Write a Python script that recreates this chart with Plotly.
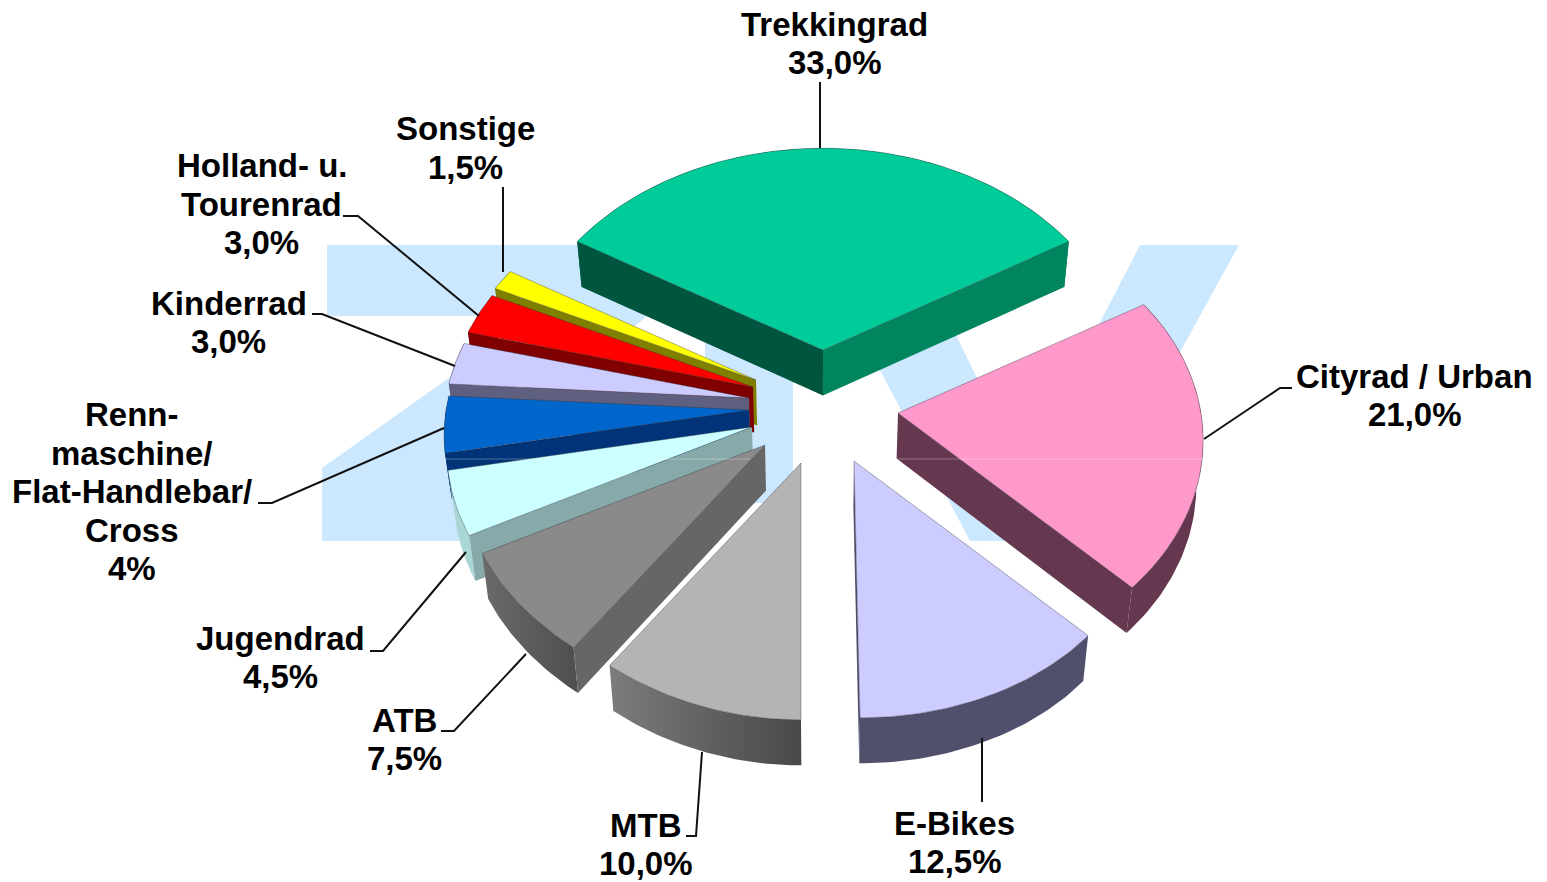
import math
import plotly.graph_objects as go

# ---- data ----
categories = ["Trekkingrad", "Cityrad / Urban", "E-Bikes", "MTB", "ATB", "Jugendrad",
              "Renn-maschine/Flat-Handlebar/Cross", "Kinderrad", "Holland- u. Tourenrad", "Sonstige"]
shares = [33.0, 21.0, 12.5, 10.0, 7.5, 4.5, 4.0, 3.0, 3.0, 1.5]
share_labels = ["33,0%", "21,0%", "12,5%", "10,0%", "7,5%", "4,5%", "4%", "3,0%", "3,0%", "1,5%"]

# ---- styling / layout ----
label_lines = [["Trekkingrad"], ["Cityrad / Urban"], ["E-Bikes"], ["MTB"], ["ATB"], ["Jugendrad"],
               ["Renn-", "maschine/", "Flat-Handlebar/", "Cross"], ["Kinderrad"],
               ["Holland- u.", "Tourenrad"], ["Sonstige"]]
label_pos = [(834.5, 24), (1414.5, 376), (954.5, 823), (645.5, 825), (404.5, 720), (280.5, 638),
             (131.5, 414.5), (228.5, 303), (261.5, 165.5), (465.5, 128.5)]
LINE_STEP = 38.6
apex = [(823, 350), (898, 413), (854, 461), (801, 463), (765, 445), (752, 427),
        (749, 410), (749, 398), (753, 387), (756, 380)]
top_col = ["#00CC99", "#FF99CC", "#CCCCFF", "#B4B4B4", "#8A8A8A", "#CCFFFF",
           "#0066CC", "#CCCCFF", "#FF0000", "#FFFF00"]
wall_col = ["#00855F", "#66384F", "#50506C", "#5A5A5A", "#666666", "#88A9A9",
            "#003377", "#5F5F7F", "#800000", "#808000"]
far_wall_col = {0: "#00553F"}
arc_grad = {3: ("#7C7C7C", "#484848"), 4: ("#6A6A6A", "#4E4E4E"), 5: ("#AAD6D6", "#AAD6D6")}
draw_order = [9, 8, 7, 6, 5, 4, 3, 0, 1, 2]
R, RK, P, DEPTH, XC, XS = 303, 226, 0.12, 45.5, 820, 0.982
LEFT_NEAR_SQUEEZE = 0.045
edge_skew = {2: 6}
LOGO = "#CCE8FF"
logo_shapes = [
    [(327, 245), (645, 245), (645, 318), (450, 470), (650, 470), (650, 541), (322, 541),
     (322, 468), (536, 316), (327, 316)],
    [(705, 245), (793, 245), (793, 503), (705, 503)],
    [(814, 245), (912, 245), (1023, 472), (1140, 245), (1239, 245), (1076, 541), (970, 541)],
]
leaders = [
    [(820, 82), (820, 148)],
    [(1292, 388), (1280, 388), (1204, 439)],
    [(982, 738), (982, 802)],
    [(686, 836), (696, 836), (702, 752)],
    [(441, 731), (454, 731), (526, 654)],
    [(370, 651), (383, 651), (466, 552)],
    [(258, 503), (272, 503), (444, 428)],
    [(312, 314), (322, 314), (455, 366)],
    [(343, 216), (358, 216), (479, 316)],
    [(503, 187), (503, 272)],
]
seams = [[(897, 459), (1203, 459)], [(446, 459), (750, 459)]]


def top_point(i, deg):
    t = math.radians(deg)
    c, s = math.cos(t), math.sin(t)
    w = 1 + P * c
    dx = R * s / w
    if dx < 0 and c < 0:
        dx *= 1 - LEFT_NEAR_SQUEEZE * c * c
    dx += edge_skew.get(i, 0) * max(0.0, (-c - 0.707) / 0.293)
    return (apex[i][0] + dx, apex[i][1] - RK * c / w)


def low(p):
    return (XC + XS * (p[0] - XC), p[1] + DEPTH)


def poly(points, fill, name, grad=None, line=None):
    xs = [p[0] for p in points] + [points[0][0]]
    ys = [p[1] for p in points] + [points[0][1]]
    kw = dict(fillcolor=fill)
    if grad:
        kw = dict(fillgradient=dict(type="horizontal",
                                    colorscale=[[0, grad[0]], [1, grad[1]]]))
    return go.Scatter(x=xs, y=ys, mode="lines", fill="toself", name=name,
                      line=line or dict(width=0, color=fill), hoverinfo="name",
                      showlegend=False, **kw)


# angles come from the shares; the largest slice is centred at twelve o'clock
total = sum(shares)
bounds = [-shares[0] / total * 180]
for s in shares:
    bounds.append(bounds[-1] + s / total * 360)

fig = go.Figure()
for i in draw_order:
    a0, a1 = bounds[i], bounds[i + 1]
    n = max(6, int(a1 - a0))
    arc = [top_point(i, a0 + (a1 - a0) * k / n) for k in range(n + 1)]
    A = apex[i]
    name = f"{categories[i]} {share_labels[i]}"
    start_wall = [A, arc[0], low(arc[0]), low(A)]
    end_wall = [A, arc[-1], low(arc[-1]), low(A)]
    c0, c1 = math.cos(math.radians(a0)), math.cos(math.radians(a1))
    far, near = (start_wall, end_wall) if c0 >= c1 else (end_wall, start_wall)
    arc_wall = arc + [low(p) for p in reversed(arc)]
    fig.add_trace(poly(arc_wall, wall_col[i], name, grad=arc_grad.get(i)))
    if a0 < 0 < a1:  # only the slice straddling the back shows both radial walls
        fig.add_trace(poly(start_wall, far_wall_col.get(i, wall_col[i]), name))
        fig.add_trace(poly(end_wall, wall_col[i], name))
    else:
        fig.add_trace(poly(near, wall_col[i], name))
    fig.add_trace(poly([A] + arc, top_col[i], name,
                       line=dict(width=0.7, color="rgba(50,50,60,0.55)")))

for seg in leaders:
    fig.add_trace(go.Scatter(x=[p[0] for p in seg], y=[p[1] for p in seg], mode="lines",
                             line=dict(color="#111111", width=2), hoverinfo="skip", showlegend=False))
for seg in seams:
    fig.add_trace(go.Scatter(x=[p[0] for p in seg], y=[p[1] for p in seg], mode="lines",
                             line=dict(color="rgba(255,255,255,0.3)", width=1),
                             hoverinfo="skip", showlegend=False))

annotations = []
for lines, value, (cx, cy) in zip(label_lines, share_labels, label_pos):
    for k, txt in enumerate(lines + [value]):
        annotations.append(dict(x=cx, y=cy + k * LINE_STEP, text=f"<b>{txt}</b>", showarrow=False,
                                xanchor="center", yanchor="middle",
                                font=dict(family="Liberation Sans", size=33, color="#000000")))

shapes = []
for pts in logo_shapes:
    path = "M " + " L ".join(f"{x},{y}" for x, y in pts) + " Z"
    shapes.append(dict(type="path", path=path, fillcolor=LOGO, line=dict(width=0), layer="below"))

fig.update_layout(
    width=1547, height=882, margin=dict(l=0, r=0, t=0, b=0),
    paper_bgcolor="#FFFFFF", plot_bgcolor="#FFFFFF", showlegend=False,
    xaxis=dict(range=[0, 1547], visible=False, fixedrange=True),
    yaxis=dict(range=[882, 0], visible=False, fixedrange=True),
    annotations=annotations, shapes=shapes,
)
fig.write_html("out.html", config={"displayModeBar": False},
               post_script="document.body.style.margin='0';")
